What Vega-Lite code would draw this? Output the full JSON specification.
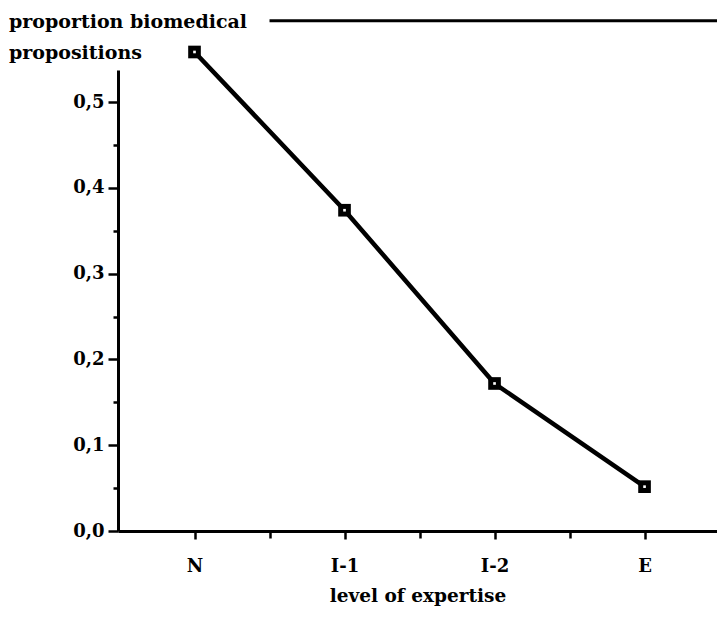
{
  "$schema": "https://vega.github.io/schema/vega-lite/v6.json",
  "width": 599,
  "height": 461,
  "autosize": {"type": "none"},
  "padding": {"left": 118, "top": 70, "right": 0, "bottom": 90},
  "background": "white",
  "config": {
    "font": "DejaVu Serif",
    "view": {"stroke": null},
    "axis": {
      "labelFont": "DejaVu Serif",
      "labelFontWeight": "bold",
      "labelFontSize": 18,
      "titleFont": "DejaVu Serif",
      "titleFontWeight": "bold",
      "titleFontSize": 18,
      "labelColor": "black",
      "titleColor": "black",
      "domainColor": "black",
      "tickColor": "black",
      "grid": false
    }
  },
  "title": {
    "text": ["proportion biomedical", "propositions"],
    "anchor": "start",
    "frame": "group",
    "dx": -109,
    "dy": 52,
    "fontSize": 19,
    "fontWeight": "bold",
    "font": "DejaVu Serif",
    "color": "black",
    "lineHeight": 31,
    "offset": 8
  },
  "datasets": {
    "points": [
      {"level": "N", "idx": 0, "value": 0.5585},
      {"level": "I-1", "idx": 1, "value": 0.374},
      {"level": "I-2", "idx": 2, "value": 0.172},
      {"level": "E", "idx": 3, "value": 0.0517}
    ],
    "frame": [{"x1": 0.5, "x2": 3.5, "y": 0.595}]
  },
  "resolve": {"axis": {"x": "independent", "y": "independent"}},
  "layer": [
    {
      "data": {"name": "points"},
      "mark": {"type": "line", "color": "black", "strokeWidth": 4.5},
      "encoding": {
        "x": {
          "field": "idx", "type": "quantitative",
          "scale": {"domain": [-0.51, 3.483], "nice": false, "zero": false},
          "axis": {
            "orient": "bottom",
            "values": [0, 1, 2, 3],
            "labelExpr": "['N','I-1','I-2','E'][datum.value]",
            "labelFontSize": 18,
            "labelPadding": 18,
            "tickSize": 8,
            "tickWidth": 2.5,
            "domainWidth": 3,
            "title": "level of expertise",
            "titleFontSize": 18.5,
            "titlePadding": 11
          }
        },
        "y": {
          "field": "value", "type": "quantitative",
          "scale": {"domain": [0, 0.5375], "nice": false},
          "axis": {
            "orient": "left",
            "values": [0, 0.1, 0.2, 0.3, 0.4, 0.5],
            "labelExpr": "replace(format(datum.value, '.1f'), '.', ',')",
            "labelFontSize": 18,
            "labelPadding": 4,
            "tickSize": 10,
            "tickWidth": 2.5,
            "domainWidth": 3,
            "title": null
          }
        }
      }
    },
    {
      "data": {"name": "points"},
      "mark": {"type": "point", "shape": "square", "filled": true, "color": "black", "size": 160, "opacity": 1},
      "encoding": {
        "x": {
          "field": "idx", "type": "quantitative",
          "axis": {
            "orient": "bottom",
            "values": [0.5, 1.5, 2.5],
            "labels": false,
            "domain": false,
            "tickSize": 7,
            "tickWidth": 2.5,
            "title": null
          }
        },
        "y": {
          "field": "value", "type": "quantitative",
          "axis": {
            "orient": "left",
            "values": [0.05, 0.15, 0.25, 0.35, 0.45],
            "labels": false,
            "domain": false,
            "tickSize": 5,
            "tickWidth": 2.5,
            "title": null
          }
        }
      }
    },
    {
      "data": {"name": "points"},
      "mark": {"type": "point", "shape": "square", "filled": true, "color": "white", "size": 7, "opacity": 1},
      "encoding": {
        "x": {"field": "idx", "type": "quantitative", "axis": null},
        "y": {"field": "value", "type": "quantitative", "axis": null}
      }
    },
    {
      "data": {"name": "frame"},
      "mark": {"type": "rule", "color": "black", "strokeWidth": 3},
      "encoding": {
        "x": {"field": "x1", "type": "quantitative", "axis": null},
        "x2": {"field": "x2"},
        "y": {"field": "y", "type": "quantitative", "axis": null}
      }
    }
  ]
}
